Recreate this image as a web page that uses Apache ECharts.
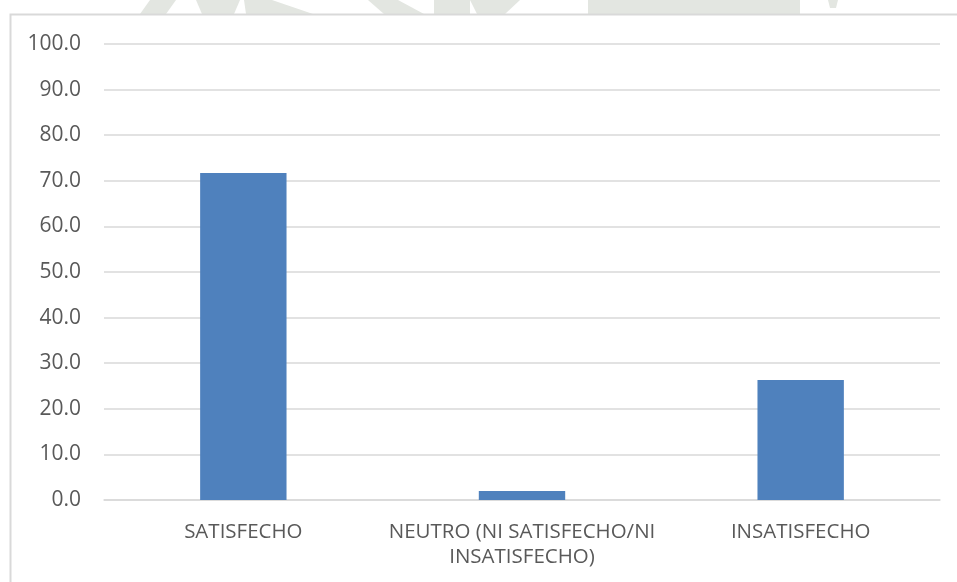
<!DOCTYPE html>
<html>
<head>
<meta charset="utf-8">
<script src="https://cdn.jsdelivr.net/npm/echarts@6/dist/echarts.min.js"></script>
<style>
  html, body { margin: 0; padding: 0; background: #ffffff; }
  #chart { width: 957px; height: 582px; }
</style>
</head>
<body>
<div id="chart"></div>
<script>
// Satisfaction levels (percent of respondents)
const categories = ['SATISFECHO', 'NEUTRO (NI SATISFECHO/NI\nINSATISFECHO)', 'INSATISFECHO'];
const percentages = [71.7, 2.0, 26.3];
const yTicks = { min: 0, max: 100, step: 10 };

const textColor = '#595959';
const gridColor = '#d9d9d9';
const fontFamily = '"Open Sans", "Noto Sans", sans-serif';

// faint background emblem peeking above the chart frame
const emblemFill = '#e3e6e1';
const emblemShapes = [
  [[150, 0], [176, 0], [166, 14], [140, 14]],
  [[196, 0], [240, 0], [234, 14], [202, 14]],
  [[244, 0], [272, 0], [313, 14], [246, 14]],
  [[368, 0], [398, 0], [424, 14], [384, 14]],
  [[434, 0], [470, 0], [470, 14], [434, 14]],
  [[470, 0], [520, 0], [505, 14], [477, 14]],
  [[588, 0], [800, 0], [800, 14], [588, 14]],
  [[828, 0], [838, 0], [836, 8], [830, 8]]
];

const chart = echarts.init(document.getElementById('chart'), null, { renderer: 'canvas' });

chart.setOption({
  backgroundColor: '#ffffff',
  animation: false,
  graphic: [
    ...emblemShapes.map(pts => ({
      type: 'polygon',
      silent: true,
      z: -10,
      shape: { points: pts },
      style: { fill: emblemFill }
    })),
    {
      type: 'rect',
      silent: true,
      z: -5,
      shape: { x: 10.5, y: 14.5, width: 980, height: 600 },
      style: { fill: '#ffffff', stroke: gridColor, lineWidth: 2 }
    }
  ],
  grid: { left: 104, right: 17, top: 44, bottom: 82, containLabel: false },
  xAxis: {
    type: 'category',
    data: categories,
    axisLine: { show: true, lineStyle: { color: gridColor, width: 1.5 } },
    axisTick: { show: false },
    axisLabel: {
      color: textColor,
      fontFamily: fontFamily,
      fontSize: 20.5,
      lineHeight: 25,
      margin: 20,
      interval: 0
    }
  },
  yAxis: {
    type: 'value',
    min: yTicks.min,
    max: yTicks.max,
    interval: yTicks.step,
    axisLine: { show: false },
    axisTick: { show: false },
    splitLine: { lineStyle: { color: gridColor, width: 1.5 } },
    axisLabel: {
      color: textColor,
      fontFamily: fontFamily,
      fontSize: 21,
      margin: 23,
      formatter: v => v.toFixed(1)
    }
  },
  series: [{
    type: 'bar',
    data: percentages,
    barWidth: '31%',
    itemStyle: { color: '#4f81bd' }
  }]
});
</script>
</body>
</html>
